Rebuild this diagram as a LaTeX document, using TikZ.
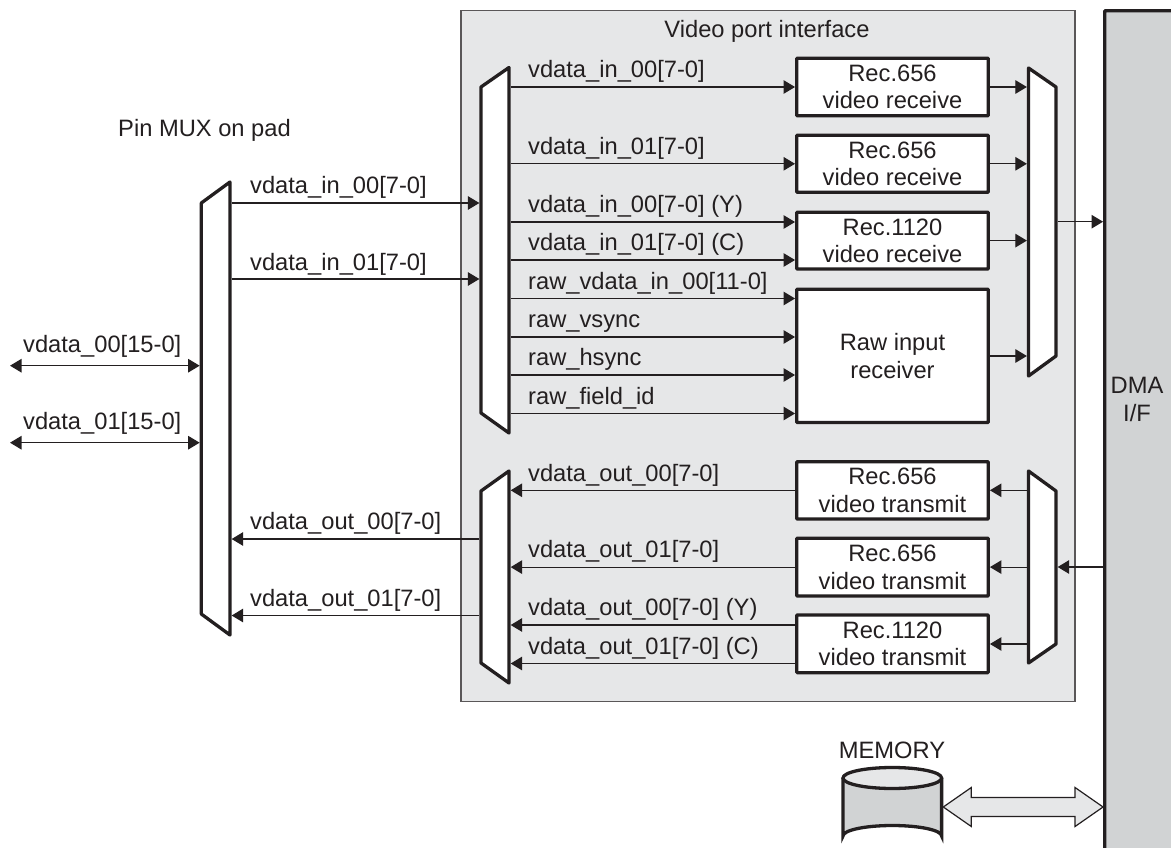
\documentclass[tikz,border=0pt]{standalone}
\usepackage{fontspec}
\setmainfont{Liberation Sans}
\usetikzlibrary{arrows.meta,calc}
\definecolor{ink}{HTML}{231F20}
\definecolor{panelc}{HTML}{E6E7E8}
\definecolor{dmac}{HTML}{D1D3D4}
\tikzset{
  lab/.style={anchor=base west,inner sep=0pt,text=ink},
  ctr/.style={anchor=base,inner sep=0pt,text=ink},
  boxn/.style={draw=ink,fill=white,line width=3.3pt,rounded corners=0.8pt,align=center,inner sep=0pt,text=ink,minimum width=191.6pt},
  muxpoly/.style={draw=ink,fill=white,line width=3.3pt,line join=round},
  muxnode/.style={inner sep=0pt,outer sep=1.65pt},
  conn/.style={draw=ink,line width=1.2pt,-{Triangle[length=11.5pt,width=13.5pt]}},
  wire/.style={draw=ink,line width=1.2pt},
  both/.style={draw=ink,line width=1.2pt,{Triangle[length=11.5pt,width=13.5pt]}-{Triangle[length=11.5pt,width=13.5pt]}},
}
\newcommand{\muxshape}[7]{%
  \pgfmathsetmacro{\mw}{#3-#2}\pgfmathsetmacro{\mh}{max(#5,#7)-min(#4,#6)}%
  \pgfmathsetmacro{\mx}{(#2+#3)/2}\pgfmathsetmacro{\my}{(max(#5,#7)+min(#4,#6))/2}%
  \node[muxnode,minimum width=\mw pt,minimum height=\mh pt] (#1) at (\mx,\my) {};
  \draw[muxpoly] (#2,#4) -- (#3,#6) -- (#3,#7) -- (#2,#5) -- cycle;
}
\begin{document}
\begin{tikzpicture}[x=1pt,y=-1pt,font=\fontsize{23.7}{27.5}\selectfont]
\path[use as bounding box,clip] (0,0) rectangle (1171,848);
\fill[white] (0,0) rectangle (1171,848);
% panel
\node[draw=ink!75,fill=panelc,line width=1.2pt,inner sep=0pt,minimum width=614pt,minimum height=691pt] (panel) at (768,356.2) {};
\node[ctr] (paneltitle) at (767,38) {Video port interface};
% DMA
\node[fill=dmac,inner sep=0pt,outer sep=1.65pt,minimum width=80pt,minimum height=860pt] (dma) at (1144.7,440.7) {};
\draw[ink,line width=3.3pt,rounded corners=0.8pt] (1104.7,900) -- (1104.7,10.7) -- (1190,10.7);
\node[ctr,align=center] (dmatext) at (1137,421) {DMA\\I/F};
% muxes
\muxshape{mA}{201.3}{230}{203}{614}{182}{635}
\muxshape{mB}{481}{509}{87}{413}{67.5}{433}
\muxshape{mC}{481}{509}{491}{663}{471}{683}
\muxshape{mD}{1028.5}{1056}{68}{376}{87}{356}
\muxshape{mE}{1028.5}{1056}{471}{663}{491}{644}
% boxes
\node[boxn,minimum height=57.4pt] (r1) at (892.5,87) {Rec.656\\video receive};
\node[boxn,minimum height=57pt] (r2) at (892.5,163.8) {Rec.656\\video receive};
\node[boxn,minimum height=56.7pt] (r3) at (892.5,240.6) {Rec.1120\\video receive};
\node[boxn,minimum height=133.2pt] (r4) at (892.5,355.9) {Raw input\\receiver};
\node[boxn,minimum height=57.3pt] (t1) at (892.5,490.3) {Rec.656\\video transmit};
\node[boxn,minimum height=57.7pt] (t2) at (892.5,567.1) {Rec.656\\video transmit};
\node[boxn,minimum height=57.7pt] (t3) at (892.5,643.8) {Rec.1120\\video transmit};
% free ends
\coordinate (p0) at (10,365.7);
\coordinate (p1) at (10,442.7);
% outer bidirectional
\draw[both] (p0) -- (mA.west |- p0);
\draw[both] (p1) -- (mA.west |- p1);
\node[lab] (l00) at (23,352) {vdata\_00[15-0]};
\node[lab] (l01) at (23,429) {vdata\_01[15-0]};
% pad mux to VPI
\draw[conn] (mA.east |- 0,203) -- (mB.west |- 0,203);
\draw[conn] (mA.east |- 0,279) -- (mB.west |- 0,279);
\draw[conn] (mC.west |- 0,539) -- (mA.east |- 0,539);
\draw[conn] (mC.west |- 0,615.5) -- (mA.east |- 0,615.5);
\node[lab] (a1) at (250,193.5) {vdata\_in\_00[7-0]};
\node[lab] (a2) at (250,270) {vdata\_in\_01[7-0]};
\node[lab] (a3) at (250,529.5) {vdata\_out\_00[7-0]};
\node[lab] (a4) at (250,606) {vdata\_out\_01[7-0]};
% input connectors
\draw[conn] (mB.east |- r1) -- (r1.west);
\draw[conn] (mB.east |- r2) -- (r2.west);
\draw[conn] (mB.east |- 0,222) -- (r3.west |- 0,222);
\draw[conn] (mB.east |- 0,260) -- (r3.west |- 0,260);
\draw[conn] (mB.east |- 0,298.5) -- (r4.west |- 0,298.5);
\draw[conn] (mB.east |- 0,337) -- (r4.west |- 0,337);
\draw[conn] (mB.east |- 0,375) -- (r4.west |- 0,375);
\draw[conn] (mB.east |- 0,413.5) -- (r4.west |- 0,413.5);
\node[lab] (b1) at (528,78) {vdata\_in\_00[7-0]};
\node[lab] (b2) at (528,155) {vdata\_in\_01[7-0]};
\node[lab] (b3) at (528,212.5) {vdata\_in\_00[7-0] (Y)};
\node[lab] (b4) at (528,250.5) {vdata\_in\_01[7-0] (C)};
\node[lab] (b5) at (528,289) {raw\_vdata\_in\_00[11-0]};
\node[lab] (b6) at (528,327.5) {raw\_vsync};
\node[lab] (b7) at (528,365.5) {raw\_hsync};
\node[lab] (b8) at (528,404) {raw\_field\_id};
% to right mux
\draw[conn] (r1.east) -- (mD.west |- r1);
\draw[conn] (r2.east) -- (mD.west |- r2);
\draw[conn] (r3.east) -- (mD.west |- r3);
\draw[conn] (r4.east |- 0,356) -- (mD.west |- 0,356);
\draw[conn] (mD.east |- 0,221.7) -- (dma.west |- 0,221.7);
% output connectors
\draw[conn] (t1.west) -- (mC.east |- t1);
\draw[conn] (t2.west) -- (mC.east |- t2);
\draw[conn] (t3.west |- 0,625) -- (mC.east |- 0,625);
\draw[conn] (t3.west |- 0,663.5) -- (mC.east |- 0,663.5);
\node[lab] (c1) at (528,481) {vdata\_out\_00[7-0]};
\node[lab] (c2) at (528,557.5) {vdata\_out\_01[7-0]};
\node[lab] (c3) at (528,615) {vdata\_out\_00[7-0] (Y)};
\node[lab] (c4) at (528,654) {vdata\_out\_01[7-0] (C)};
\draw[conn] (mE.west |- t1) -- (t1.east);
\draw[conn] (mE.west |- t2) -- (t2.east);
\draw[conn] (mE.west |- 0,644) -- (t3.east |- 0,644);
\draw[conn] (dma.west |- 0,567) -- (mE.east |- 0,567);
% labels
\node[lab] (pinmux) at (118,137) {Pin MUX on pad};
\node[ctr] (memlabel) at (892,758) {MEMORY};
% memory
\node[inner sep=0pt,outer sep=1.65pt,minimum width=98.7pt,minimum height=60pt] (mem) at (892.3,807) {};
\draw[draw=ink,fill=dmac,line width=3.3pt] (843,778) -- (843,836) arc[start angle=180,end angle=360,x radius=49.3,y radius=10.5] -- (941.6,778);
\draw[draw=ink,fill=panelc,line width=3.3pt] (892.3,778) ellipse[x radius=49.3,y radius=10.5];
% wide double arrow
\draw[draw=ink,fill=panelc,line width=1.2pt,line join=miter]
  (mem.east) -- ++(28,-19.5) -- ++(0,10) -- ($(mem.east -| dma.west)+(-28,-9.5)$) -- ++(0,-10)
  -- (mem.east -| dma.west) -- ++(-28,19.5) -- ++(0,-10) -- ($(mem.east)+(28,9.5)$) -- ++(0,10) -- cycle;
\end{tikzpicture}
\end{document}
